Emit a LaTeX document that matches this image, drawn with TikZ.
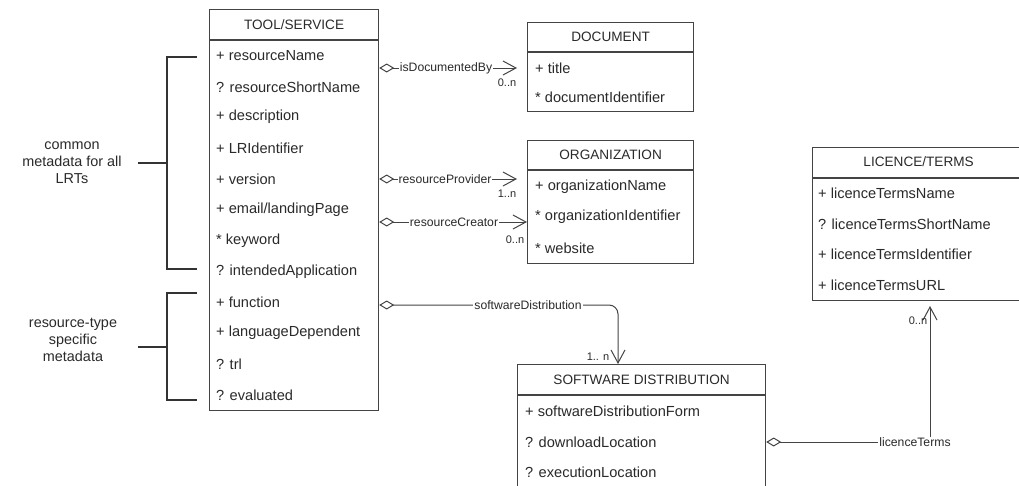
\documentclass[tikz,border=0pt]{standalone}
\usepackage{fontspec}
\setmainfont{Liberation Sans}
\usetikzlibrary{arrows.meta}
\definecolor{ln}{HTML}{444444}
\definecolor{tx}{HTML}{2A2A2A}
\definecolor{br}{HTML}{333333}
\begin{document}
\begin{tikzpicture}[x=1pt,y=-1pt,
  box/.style={draw=ln, line width=1.2pt, inner sep=0, anchor=north west},
  sep/.style={draw=ln, line width=1.2pt},
  ttl/.style={text=tx, inner sep=0, font=\fontsize{13.6}{16}\selectfont},
  attr/.style={text=tx, anchor=west, inner sep=0, font=\fontsize{14.6}{16}\selectfont},
  lbl/.style={text=tx, fill=white, inner sep=1pt, font=\fontsize{12.2}{14}\selectfont},
  mult/.style={text=tx, inner sep=0, font=\fontsize{11}{13}\selectfont},
  side/.style={text=tx, align=center, inner sep=0, font=\fontsize{14.4}{17}\selectfont},
  brk/.style={draw=br, line width=2.6pt},
  assoc/.style={draw=ln, line width=1pt, {Diamond[open,length=15pt,width=9pt,line width=1pt]}-{Straight Barb[length=13pt,width=14pt,line width=1pt]}}
]
\useasboundingbox (0,0) rectangle (1019,485);
\clip (0,0) rectangle (1019,485);
\fill[white] (0,0) rectangle (1019,485);

% ---------- TOOL/SERVICE ----------
\node[box, minimum width=169, minimum height=401] (tool) at (209,9) {};
\draw[sep] (tool.west |- 0,40) -- (tool.east |- 0,40);
\node[ttl] (toolT) at (tool.north |- 0,25) {TOOL/SERVICE};
\node[attr] (t1) at (216,56) {+ resourceName};
\node[attr] (t2) at (216,87) {? resourceShortName};
\node[attr] (t3) at (216,117) {+ description};
\node[attr] (t4) at (216,148) {+ LRIdentifier};
\node[attr] (t5) at (216,179) {+ version};
\node[attr] (t6) at (216,210) {+ email/landingPage};
\node[attr] (t7) at (216,241) {* keyword};
\node[attr] (t8) at (216,272) {? intendedApplication};
\node[attr] (t9) at (216,302) {+ function};
\node[attr] (t10) at (216,333) {+ languageDependent};
\node[attr] (t11) at (216,364) {? trl};
\node[attr] (t12) at (216,395) {? evaluated};

% ---------- DOCUMENT ----------
\node[box, minimum width=166, minimum height=89] (doc) at (527,22) {};
\draw[sep] (doc.west |- 0,52) -- (doc.east |- 0,52);
\node[ttl] (docT) at (doc.north |- 0,37) {DOCUMENT};
\node[attr] (d1) at (535,68) {+ title};
\node[attr] (d2) at (535,97) {* documentIdentifier};

% ---------- ORGANIZATION ----------
\node[box, minimum width=166, minimum height=123] (org) at (527,140) {};
\draw[sep] (org.west |- 0,170) -- (org.east |- 0,170);
\node[ttl] (orgT) at (org.north |- 0,155) {ORGANIZATION};
\node[attr] (o1) at (535,187) {+ organizationName};
\node[attr] (o2) at (535,217) {* organizationIdentifier};
\node[attr] (o3) at (535,248) {* website};

% ---------- LICENCE/TERMS ----------
\node[box, minimum width=212, minimum height=153] (lic) at (812,147) {};
\draw[sep] (lic.west |- 0,178) -- (lic.east |- 0,178);
\node[ttl] (licT) at (lic.north |- 0,162) {LICENCE/TERMS};
\node[attr] (l1) at (818,193) {+ licenceTermsName};
\node[attr] (l2) at (818,224) {? licenceTermsShortName};
\node[attr] (l3) at (818,254) {+ licenceTermsIdentifier};
\node[attr] (l4) at (818,285) {+ licenceTermsURL};

% ---------- SOFTWARE DISTRIBUTION ----------
\node[box, minimum width=248, minimum height=160] (sd) at (517,364) {};
\draw[sep] (sd.west |- 0,395) -- (sd.east |- 0,395);
\node[ttl] (sdT) at (sd.north |- 0,380) {SOFTWARE DISTRIBUTION};
\node[attr] (s1) at (525,411) {+ softwareDistributionForm};
\node[attr] (s2) at (525,442) {? downloadLocation};
\node[attr] (s3) at (525,472) {? executionLocation};

% ---------- connectors ----------
\coordinate (a1) at (378,68);  \coordinate (e1) at (517,68);
\coordinate (a2) at (378,179); \coordinate (e2) at (517,179);
\coordinate (a3) at (378,222); \coordinate (e3) at (527,222);
\coordinate (a4) at (378,305); \coordinate (e4) at (618,364);
\coordinate (a5) at (765,442); \coordinate (e5) at (930,306);

\draw[assoc] (tool.east |- a1) -- (e1);
\node[lbl] (n1) at (446,68) {isDocumentedBy};
\node[mult] (m1) at (507,83) {0..n};

\draw[assoc] (tool.east |- a2) -- (e2);
\node[lbl] (n2) at (445,179) {resourceProvider};
\node[mult] (m2) at (507,194) {1..n};

\draw[assoc] (tool.east |- a3) -- (org.west |- e3);
\node[lbl] (n3) at (454,222) {resourceCreator};
\node[mult] (m3) at (515,240) {0..n};

\draw[assoc, rounded corners=9pt] (tool.east |- a4) -| (sd.north -| e4);
\node[lbl] (n4) at (528,305) {softwareDistribution};
\node[mult] (m4) at (598,357) {1.. n};

\draw[assoc] (sd.east |- a5) -| (e5);
\node[lbl] (n5) at (915,442) {licenceTerms};
\node[mult] (m5) at (918,321) {0..n};

% ---------- brackets ----------
\node[side] (c1) at (72,163) {common\\metadata for all\\LRTs};
\node[side] (c2) at (73,340) {resource-type\\specific\\metadata};
\coordinate (b1) at (197,57);  \coordinate (b2) at (197,269);
\coordinate (b3) at (197,293); \coordinate (b4) at (197,400);
\coordinate (k1) at (138,163); \coordinate (k2) at (138,347);
\draw[brk] (b1) -- (167,57) -- (167,269) -- (b2);
\draw[brk] (k1) -- (167,163);
\draw[brk] (b3) -- (167,293) -- (167,400) -- (b4);
\draw[brk] (k2) -- (167,347);
\end{tikzpicture}
\end{document}
